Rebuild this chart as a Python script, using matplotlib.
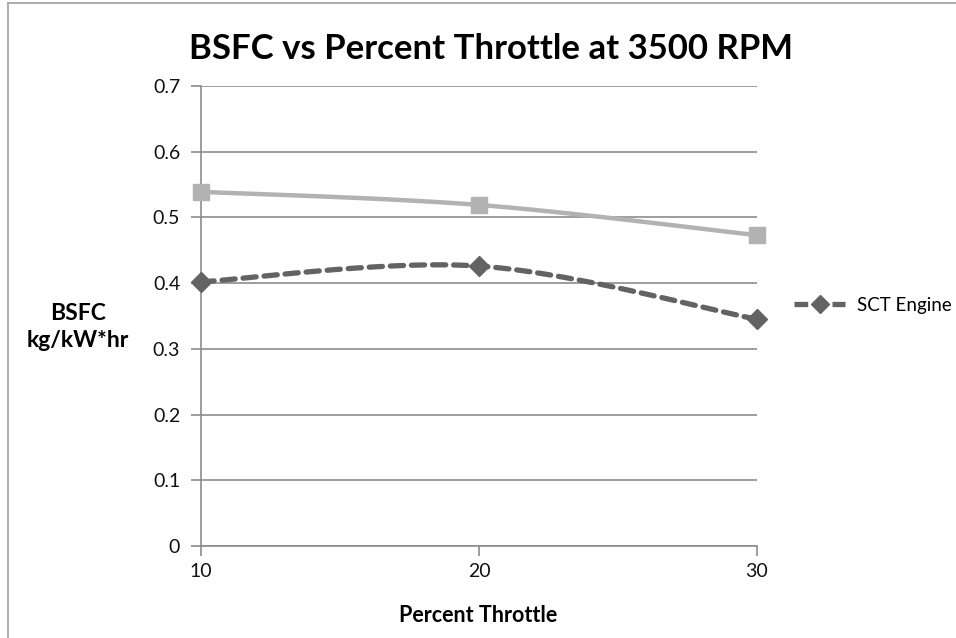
import numpy as np
import matplotlib
matplotlib.use("Agg")
import matplotlib.pyplot as plt
from matplotlib.lines import Line2D

plt.rcParams['font.family'] = ['Lato', 'DejaVu Sans']

throttle = [10, 20, 30]
series_gray = [0.539, 0.519, 0.473]
sct_engine = [0.402, 0.426, 0.345]
yticks = [0, 0.1, 0.2, 0.3, 0.4, 0.5, 0.6, 0.7]
ytick_labels = ['0', '0.1', '0.2', '0.3', '0.4', '0.5', '0.6', '0.7']


def smooth(xs, ys, n=60):
    # Excel-like smoothed line (Bezier through points, Catmull-Rom control points)
    P = np.column_stack([xs, ys]).astype(float)
    out = []
    for i in range(len(P) - 1):
        p0 = P[i - 1] if i > 0 else P[i]
        p1 = P[i]
        p2 = P[i + 1]
        p3 = P[i + 2] if i + 2 < len(P) else P[i + 1]
        c1 = p1 + (p2 - p0) / 6.0
        c2 = p2 - (p3 - p1) / 6.0
        t = np.linspace(0, 1, n)[:, None]
        seg = ((1 - t) ** 3) * p1 + 3 * ((1 - t) ** 2) * t * c1 + 3 * (1 - t) * t ** 2 * c2 + t ** 3 * p2
        out.append(seg if i == 0 else seg[1:])
    s = np.vstack(out)
    return s[:, 0], s[:, 1]


fig = plt.figure(figsize=(9.56, 6.38), dpi=100)
ax = fig.add_axes([201 / 956, 1 - 546 / 638, (757 - 201) / 956, (546 - 86) / 638])

grid_c = '#8c8c8c'
light = '#b2b2b2'
dark = '#636363'

sx, sy = smooth(throttle, series_gray)
ax.plot(sx, sy, color=light, lw=3.2, solid_capstyle='round', zorder=3)
ax.plot(throttle, series_gray, ls='none', marker='s', ms=12, color=light, zorder=4)

dx, dy = smooth(throttle, sct_engine)
ax.plot(dx, dy, color=dark, lw=3.8, ls=(0, (2.5, 1.5)), dash_capstyle='round', zorder=3)
ax.plot(throttle, sct_engine, ls='none', marker='D', ms=10.5, color=dark, zorder=4)

ax.set_xlim(10, 30)
ax.set_ylim(0, 0.7)
ax.set_xticks(throttle)
ax.set_xticklabels([str(t) for t in throttle], fontsize=14)
ax.set_yticks(yticks)
ax.set_yticklabels(ytick_labels, fontsize=14)
ax.yaxis.grid(True, color=grid_c, lw=1.2)
ax.set_axisbelow(True)
for s in ['top', 'right']:
    ax.spines[s].set_visible(False)
for s in ['left', 'bottom']:
    ax.spines[s].set_color(grid_c)
    ax.spines[s].set_linewidth(1.2)
ax.tick_params(axis='both', color=grid_c, length=7, width=1.2, pad=5, labelcolor='#111111')
ax.tick_params(axis='y', pad=8)
for ln in ax.lines:
    ln.set_clip_on(False)

fig.text(491 / 956, 1 - 49 / 638, 'BSFC vs Percent Throttle at 3500 RPM', ha='center', va='center',
         fontsize=25, fontweight='bold', color='#000000')
fig.text(478 / 956, 1 - 616 / 638, 'Percent Throttle', ha='center', va='center',
         fontsize=15.5, fontweight='bold')
fig.text(78 / 956, 1 - 327 / 638, 'BSFC\nkg/kW*hr', ha='center', va='center',
         fontsize=16.5, fontweight='bold', linespacing=1.4)

handle = Line2D([], [], color=dark, lw=3.8, ls=(0, (2.6, 1.0)), marker='D', ms=9)
fig.legend([handle], ['SCT Engine'], loc='center left', bbox_to_anchor=(777 / 956, 1 - 305 / 638),
           frameon=False, fontsize=13.5, handlelength=2.75, handletextpad=0.6)

# outer chart border (top and left visible)
fig.add_artist(Line2D([8 / 956, 1], [1 - 3 / 638, 1 - 3 / 638], color='#a0a0a0', lw=1.2,
                      transform=fig.transFigure))
fig.add_artist(Line2D([8 / 956, 8 / 956], [0, 1 - 3 / 638], color='#a0a0a0', lw=1.2,
                      transform=fig.transFigure))

fig.savefig('out.png', dpi=100)
